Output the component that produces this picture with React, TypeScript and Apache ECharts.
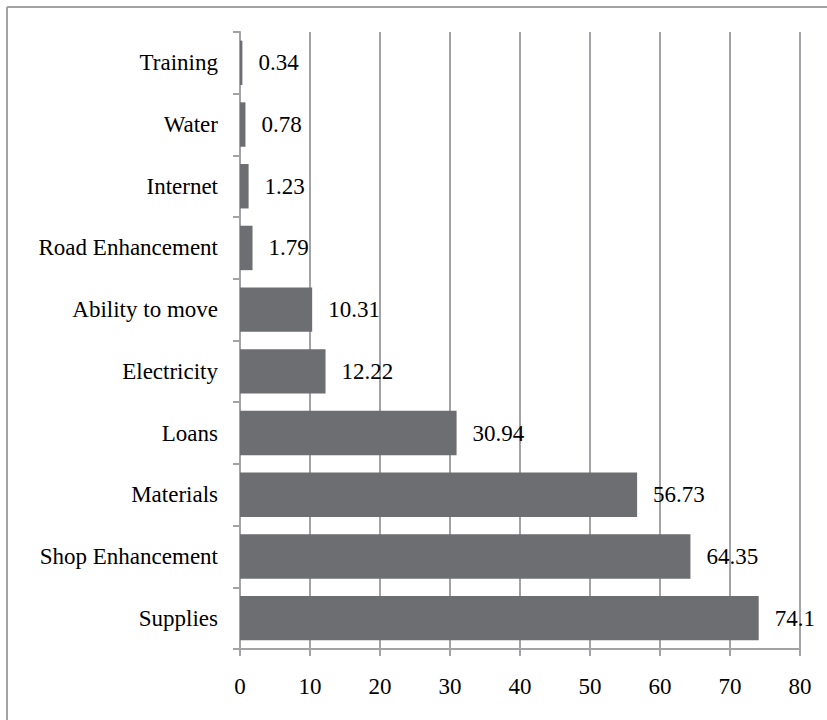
import React, { useEffect, useRef } from "react";
import * as echarts from "echarts";

const categories = [
  "Supplies",
  "Shop Enhancement",
  "Materials",
  "Loans",
  "Electricity",
  "Ability to move",
  "Road Enhancement",
  "Internet",
  "Water",
  "Training",
];
const values = [74.1, 64.35, 56.73, 30.94, 12.22, 10.31, 1.79, 1.23, 0.78, 0.34];
const xTicks = { min: 0, max: 80, interval: 10 };

const FONT = "Liberation Serif";
const GRID_COLOR = "#a3a3a7";
const BAR_COLOR = "#6d6e71";

export default function App() {
  const ref = useRef<HTMLDivElement>(null);
  useEffect(() => {
    if (!ref.current) return;
    const chart = echarts.init(ref.current, null, { renderer: "svg" });
    chart.setOption({
      animation: false,
      backgroundColor: "#ffffff",
      grid: { left: 240, right: 27, top: 32, bottom: 71, containLabel: false },
      graphic: [
        {
          type: "line",
          shape: { x1: 7, y1: 7, x2: 827, y2: 7 },
          style: { stroke: GRID_COLOR, lineWidth: 2 },
          silent: true,
        },
        {
          type: "line",
          shape: { x1: 7, y1: 7, x2: 7, y2: 720 },
          style: { stroke: GRID_COLOR, lineWidth: 2 },
          silent: true,
        },
      ],
      xAxis: {
        type: "value",
        min: xTicks.min,
        max: xTicks.max,
        interval: xTicks.interval,
        axisLine: { show: true, lineStyle: { color: GRID_COLOR, width: 2 } },
        axisTick: { show: true, length: 7, lineStyle: { color: GRID_COLOR, width: 2 } },
        splitLine: { show: true, lineStyle: { color: GRID_COLOR, width: 2 } },
        axisLabel: { fontFamily: FONT, fontSize: 23, color: "#000", margin: 26 },
      },
      yAxis: {
        type: "category",
        data: categories,
        axisLine: { show: true, lineStyle: { color: GRID_COLOR, width: 2 } },
        axisTick: { show: true, length: 7, alignWithLabel: false, lineStyle: { color: GRID_COLOR, width: 2 } },
        axisLabel: { fontFamily: FONT, fontSize: 23, color: "#000", margin: 22 },
        splitLine: { show: false },
      },
      series: [
        {
          type: "bar",
          data: values,
          barCategoryGap: "28%",
          itemStyle: { color: BAR_COLOR },
          label: {
            show: true,
            position: "right",
            distance: 16,
            fontFamily: FONT,
            fontSize: 23,
            color: "#000",
          },
        },
      ],
    });
    return () => chart.dispose();
  }, []);
  return (
    <div
      ref={ref}
      style={{ position: "absolute", left: 0, top: 0, width: 827, height: 720 }}
    />
  );
}
